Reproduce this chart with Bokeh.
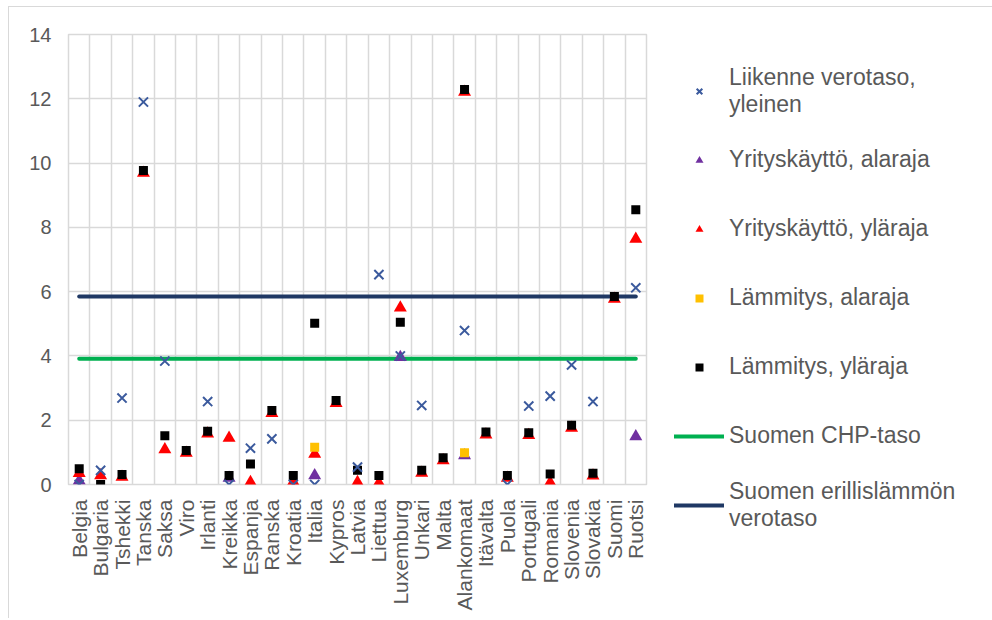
from bokeh.plotting import figure
from bokeh.models import Range1d, FactorRange, FixedTicker, Legend, LegendItem
from bokeh.embed import file_html
from bokeh.resources import INLINE

nan = float("nan")

countries = ["Belgia", "Bulgaria", "Tshekki", "Tanska", "Saksa", "Viro", "Irlanti",
             "Kreikka", "Espanja", "Ranska", "Kroatia", "Italia", "Kypros", "Latvia",
             "Liettua", "Luxemburg", "Unkari", "Malta", "Alankomaat", "Itävalta",
             "Puola", "Portugali", "Romania", "Slovenia", "Slovakia", "Suomi", "Ruotsi"]

liikenne = [0.0, 0.44, 2.69, 11.9, 3.84, nan, 2.58, 0.0, 1.13, 1.42, 0.0, 0.0, nan, 0.54,
            6.53, 4.0, 2.46, nan, 4.79, nan, 0.0, 2.44, 2.75, 3.72, 2.58, nan, 6.12]
yritys_ala = [0.12, nan, nan, nan, nan, nan, nan, 0.2, nan, nan, nan, 0.28, nan, nan,
              nan, 3.96, nan, nan, 0.9, nan, nan, nan, nan, nan, nan, nan, 1.49]
yritys_yla = [0.35, 0.28, 0.23, 9.69, 1.09, 0.98, 1.58, 1.45, 0.07, 2.22, 0.08, 0.95, 2.53, 0.07,
              0.05, 5.5, 0.36, 0.75, 12.21, 1.55, 0.2, 1.53, 0.06, 1.76, 0.27, 5.77, 7.64]
lammitys_ala = [nan, nan, nan, nan, nan, nan, nan, nan, nan, nan, nan, 1.16, nan, nan,
                nan, nan, nan, nan, 0.99, nan, nan, nan, nan, nan, nan, nan, nan]
lammitys_yla = [0.49, 0.0, 0.31, 9.77, 1.52, 1.06, 1.66, 0.28, 0.64, 2.3, 0.28, 5.02, 2.61, 0.44,
                0.28, 5.05, 0.44, 0.83, 12.29, 1.63, 0.28, 1.61, 0.33, 1.84, 0.35, 5.85, 8.55]
chp_taso = 3.91
erillis_taso = 5.85
y_ticks = [0, 2, 4, 6, 8, 10, 12, 14]

labels = ["Liikenne verotaso,\nyleinen", "Yrityskäyttö, alaraja", "Yrityskäyttö, yläraja",
          "Lämmitys, alaraja", "Lämmitys, yläraja", "Suomen CHP-taso",
          "Suomen erillislämmön\nverotaso"]

FONT = "Liberation Sans"
GRAY = "#595959"
GRID = "#D9D9D9"

p = figure(frame_width=578, frame_height=450,
           x_range=FactorRange(factors=countries, range_padding=0),
           y_range=Range1d(0, 14),
           output_backend="svg", toolbar_location=None,
           min_border_left=59, min_border_right=0,
           min_border_top=27, min_border_bottom=134,
           styles={"margin-left": "8px", "margin-top": "6px",
                   "border-left": "1px solid #d9d9d9", "border-top": "1px solid #d9d9d9"})

p.outline_line_color = GRID
p.outline_line_width = 1.5

for ax in (p.xaxis[0], p.yaxis[0]):
    ax.axis_line_color = None
    ax.major_tick_line_color = None
    ax.minor_tick_line_color = None
    ax.major_tick_out = 0
    ax.major_tick_in = 0
    ax.major_label_text_color = GRAY
    ax.major_label_text_font = FONT

p.yaxis.ticker = FixedTicker(ticks=y_ticks)
p.yaxis.major_label_text_font_size = "20px"
p.yaxis.major_label_standoff = 17

p.xaxis.major_label_orientation = 3.14159265 / 2
p.xaxis.major_label_text_font_size = "21px"
p.xaxis.major_label_standoff = 15

p.ygrid.ticker = FixedTicker(ticks=y_ticks)
p.ygrid.grid_line_color = GRID
p.ygrid.grid_line_width = 1.5
p.xgrid.ticker = FixedTicker(ticks=list(range(len(countries) + 1)))
p.xgrid.grid_line_color = GRID
p.xgrid.grid_line_width = 1.5

r_chp = p.line(x=[countries[0], countries[-1]], y=[chp_taso, chp_taso],
               line_color="#00B050", line_width=4, line_cap="round")
r_er = p.line(x=[countries[0], countries[-1]], y=[erillis_taso, erillis_taso],
              line_color="#1F3864", line_width=4, line_cap="round")

r_ya = p.scatter(x=countries, y=yritys_ala, marker="triangle", size=13,
                 fill_color="#7030A0", line_color=None)
r_yy = p.scatter(x=countries, y=yritys_yla, marker="triangle", size=13,
                 fill_color="#FF0000", line_color=None)
r_la = p.scatter(x=countries, y=lammitys_ala, marker="square", size=9,
                 fill_color="#FFC000", line_color=None)
r_ly = p.scatter(x=countries, y=lammitys_yla, marker="square", size=9,
                 fill_color="#000000", line_color=None)
r_li = p.scatter(x=countries, y=liikenne, marker="x", size=13,
                 line_color="#3B5A9D", line_width=2)

legend = Legend(items=[
    LegendItem(label=labels[0], renderers=[r_li]),
    LegendItem(label=labels[1], renderers=[r_ya]),
    LegendItem(label=labels[2], renderers=[r_yy]),
    LegendItem(label=labels[3], renderers=[r_la]),
    LegendItem(label=labels[4], renderers=[r_ly]),
    LegendItem(label=labels[5], renderers=[r_chp]),
    LegendItem(label=labels[6], renderers=[r_er]),
], location="top_left")
legend.glyph_width = 50
legend.glyph_height = 20
legend.label_height = 57
legend.spacing = 12
legend.padding = 8
legend.margin = 28
legend.label_standoff = 5
legend.label_text_font = FONT
legend.label_text_font_size = "23px"
legend.label_text_color = GRAY
legend.label_text_line_height = 1.1
legend.border_line_color = None
legend.background_fill_alpha = 0
p.add_layout(legend, "right")

open("out.html", "w").write(file_html(p, INLINE))
